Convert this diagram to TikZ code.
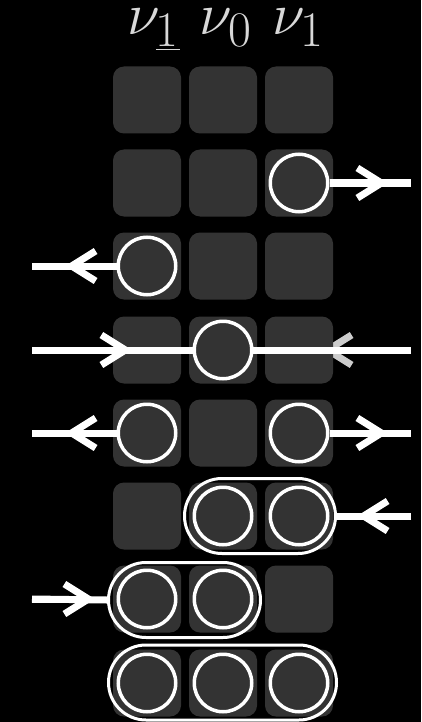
\documentclass[tikz,border=0pt]{standalone}
\usetikzlibrary{arrows.meta}
\definecolor{cellgray}{HTML}{333333}
\definecolor{labelgray}{HTML}{D8D8D8}
\definecolor{dimwhite}{HTML}{CCCCCC}
\newcommand{\biglab}[1]{\scalebox{2.4}{\Huge$#1$}}
\begin{document}
\begin{tikzpicture}[x=1pt,y=-1pt,
  cell/.style={fill=cellgray, draw=none, rounded corners=11pt, minimum width=68pt, minimum height=67pt, inner sep=0pt},
  ball/.style={circle, draw=white, line width=3.5pt, fill=cellgray, minimum size=57.5pt, inner sep=0pt},
  stadium/.style={draw=white, line width=3pt, rounded corners=37.5pt, minimum height=75pt, inner sep=0pt},
  flow/.style={draw=white, line width=7pt},
  head/.style={-{Straight Barb[length=24pt, width=30pt]}},
  lab/.style={text=labelgray, anchor=base, inner sep=0pt}]
\useasboundingbox (0,0) rectangle (421,722);
\fill[black] (0,0) rectangle (421,722);

% labels
\node[lab] (l1) at (153.5,35) {\biglab{\nu_{\underline{1}}}};
\node[lab] (l2) at (226,35) {\biglab{\nu_0}};
\node[lab] (l3) at (298.5,35) {\biglab{\nu_1}};

% dim arrow head (row 4, from right), partly under the cell
\coordinate (e4r) at (411,350);
\coordinate (t4r) at (321,350);
\draw[flow, draw=dimwhite, head] (e4r) -- (t4r);

% cells
\foreach \r/\y in {1/100,2/183,3/266,4/350,5/433,6/516,7/599,8/683}{
  \foreach \c/\x in {1/147,2/223,3/299}{
    \node[cell] (s\r\c) at (\x,\y) {};
  }
}

% row 4 through line
\coordinate (e4l) at (32,350);
\coordinate (t4l) at (132,350);
\draw[flow] (e4l) -- (e4r);
\draw[flow, head] (e4l) -- (t4l);

% balls
\node[ball] (b23) at (s23) {};
\node[ball] (b31) at (s31) {};
\node[ball] (b42) at (s42) {};
\node[ball] (b51) at (s51) {};
\node[ball] (b53) at (s53) {};
\node[ball] (b62) at (s62) {};
\node[ball] (b63) at (s63) {};
\node[ball] (b71) at (s71) {};
\node[ball] (b72) at (s72) {};
\node[ball] (b81) at (s81) {};
\node[ball] (b82) at (s82) {};
\node[ball] (b83) at (s83) {};

% stadiums
\node[stadium, minimum width=151pt] (g6) at (260,516) {};
\node[stadium, minimum width=152pt] (g7) at (184.5,600) {};
\node[stadium, minimum width=228pt] (g8) at (222.5,682.5) {};

% row 2
\coordinate (e2) at (411,183);
\coordinate (t2) at (388,183);
\draw[flow] (b23.east) -- (e2);
\draw[flow, head] (b23.east) -- (t2);

% row 3
\coordinate (e3) at (32,266);
\coordinate (t3) at (65,266);
\draw[flow] (b31.west) -- (e3);
\draw[flow, head] (b31.west) -- (t3);

% row 5
\coordinate (e5l) at (32,433);
\coordinate (t5l) at (65,433);
\draw[flow] (b51.west) -- (e5l);
\draw[flow, head] (b51.west) -- (t5l);
\coordinate (e5r) at (411,433);
\coordinate (t5r) at (388,433);
\draw[flow] (b53.east) -- (e5r);
\draw[flow, head] (b53.east) -- (t5r);

% row 6
\coordinate (e6) at (411,516);
\coordinate (t6) at (357,516);
\draw[flow] (e6) -- (g6.east);
\draw[flow, head] (e6) -- (t6);

% row 7
\coordinate (e7) at (32,599);
\coordinate (t7) at (95,599);
\draw[flow] (e7) -- (g7.west);
\draw[flow, head] (e7) -- (t7);
\end{tikzpicture}
\end{document}
